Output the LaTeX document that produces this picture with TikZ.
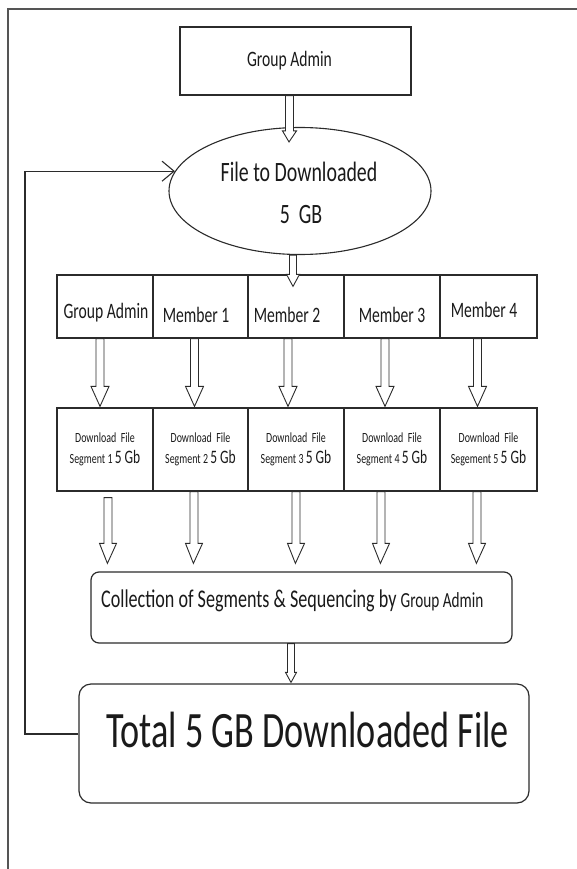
\documentclass[tikz,border=0pt]{standalone}
\usepackage{fontspec}
\setmainfont{Carlito}[FakeStretch=0.71]
\usetikzlibrary{calc,arrows.meta,shapes.geometric}
\definecolor{lc}{HTML}{2B2B2B}
\definecolor{tc}{HTML}{1A1A1A}
\begin{document}
\begin{tikzpicture}[x=1pt,y=-1pt,
  box/.style={draw=lc, line width=1.2pt, inner sep=0pt},
  rbox/.style={box, rounded corners=#1},
  txt/.style={inner sep=0pt, text=tc, anchor=base},
  cell/.style={box, minimum height=#1},
  hollow/.style n args={3}{draw=lc, line width=0.9pt, fill=white,
    to path={let \p1=(\tikztostart), \p2=(\tikztotarget) in
      (\x1-#1,\y1) -- (\x1-#1,\y2+#3) -- (\x1-#2,\y2+#3) -- (\x2,\y2)
      -- (\x1+#2,\y2+#3) -- (\x1+#1,\y2+#3) -- (\x1+#1,\y1) -- cycle}},
  fbline/.style={draw=lc, line width=1.2pt, -{Straight Barb[length=12pt,width=20pt,line width=1.1pt]}},
  fs22/.style={font=\fontsize{22}{26}\selectfont},
]
\useasboundingbox (0,0) rectangle (577,869);

% frame (top and left edges)
\coordinate (frameTL) at (8,9);
\draw[draw=lc!80, line width=1.4pt] (8,869) -- (frameTL) -- (577,9);

% top box
\node[box, minimum width=231, minimum height=68] (ga) at (295.5,61) {};
\node[txt, fs22] (gat) at (289.5,67) {Group Admin};

% ellipse
\node[draw=lc, line width=1.1pt, ellipse, inner sep=0pt, minimum width=262, minimum height=127] (ell) at (300,191) {};
\node[txt, font=\fontsize{28}{32}\selectfont] (ellt1) at (299,182) {File to Downloaded};
\node[txt, font=\fontsize{28}{32}\selectfont] (ellt2) at (301,223) {5\ \ GB};

% row 1
\node[cell=63, minimum width=96] (c1) at (105,306.5) {};
\node[cell=63, minimum width=95] (c2) at (200.5,306.5) {};
\node[cell=63, minimum width=96] (c3) at (296,306.5) {};
\node[cell=63, minimum width=96] (c4) at (392,306.5) {};
\node[cell=63, minimum width=97] (c5) at (488.5,306.5) {};
\node[txt, fs22] (t1) at (106,318) {Group Admin};
\node[txt, fs22] (t2) at (196,322) {Member 1};
\node[txt, fs22] (t3) at (287,322) {Member 2};
\node[txt, fs22] (t4) at (392,322) {Member 3};
\node[txt, fs22] (t5) at (484,317) {Member 4};

% row 2
\tikzset{segtxt/.style={align=center, text=tc, font=\fontsize{14}{21}\selectfont}}
\node[cell=83, minimum width=96, segtxt] (s1) at (105,449.5) {Download~ File\\Segment 1 {\fontsize{19}{21}\selectfont 5 Gb}};
\node[cell=83, minimum width=95, segtxt] (s2) at (200.5,449.5) {Download~ File\\Segment 2 {\fontsize{19}{21}\selectfont 5 Gb}};
\node[cell=83, minimum width=96, segtxt] (s3) at (296,449.5) {Download~ File\\Segment 3 {\fontsize{19}{21}\selectfont 5 Gb}};
\node[cell=83, minimum width=96, segtxt] (s4) at (392,449.5) {Download~ File\\Segment 4 {\fontsize{19}{21}\selectfont 5 Gb}};
\node[cell=83, minimum width=97, segtxt] (s5) at (488.5,449.5) {Download~ File\\Segement 5 {\fontsize{19}{21}\selectfont 5 Gb}};

% collection box
\node[rbox=8pt, minimum width=421, minimum height=71] (coll) at (301.5,607.5) {};
\node[txt, anchor=base west, font=\fontsize{25.5}{30}\selectfont] (collt) at (101,607) {Collection of Segments \& Sequencing by {\fontsize{21.5}{26}\selectfont Group Admin}};

% total box
\node[rbox=12pt, minimum width=450, minimum height=119] (total) at (304,743.5) {};
\node[txt, anchor=base west, font=\fontsize{51}{56}\selectfont] (totalt) at (106,747) {Total 5 GB Downloaded File};

% hollow arrows
\draw[hollow={4pt}{7pt}{11pt}] ($(ga.south)+(-6,0)$) to ($(ell.north)+(-11,15)$);
\draw[hollow={3.5pt}{6.5pt}{12pt}] ($(ell.south)+(-7,0)$) to ($(c3.north)+(-3,12)$);

\draw[hollow={4pt}{9pt}{20pt}] ($(c1.south)+(-5,0)$) to ($(s1.north)+(-5,-1)$);
\draw[hollow={4pt}{9pt}{20pt}] ($(c2.south)+(-6,0)$) to ($(s2.north)+(-6,-1)$);
\draw[hollow={4pt}{9pt}{20pt}] ($(c3.south)+(-8,0)$) to ($(s3.north)+(-8,-1)$);
\draw[hollow={4pt}{9pt}{20pt}] ($(c4.south)+(-7,0)$) to ($(s4.north)+(-7,-1)$);
\draw[hollow={4pt}{9pt}{20pt}] ($(c5.south)+(-11,0)$) to ($(s5.north)+(-11,-1)$);

\draw[hollow={4pt}{8.5pt}{20pt}] ($(s1.south)+(3,6)$) to ($(coll.north west)+(17,-8)$);
\draw[hollow={4pt}{8.5pt}{20pt}] ($(s2.south)+(-6.5,0)$) to ($(coll.north west)+(103,-8)$);
\draw[hollow={4pt}{8.5pt}{20pt}] ($(s3.south)+(0,0)$) to ($(coll.north west)+(205,-8)$);
\draw[hollow={4pt}{8.5pt}{20pt}] ($(s4.south)+(-11,0)$) to ($(coll.north west)+(290,-8)$);
\draw[hollow={4pt}{8.5pt}{20pt}] ($(s5.south)+(-11.5,0)$) to ($(coll.north west)+(386,-8)$);

\draw[hollow={3.5pt}{5.5pt}{10pt}] ($(coll.south)+(-10.5,0)$) to ($(total.north)+(-13,-1)$);

% feedback loop
\coordinate (fbc) at (25,734);
\draw[fbline] ($(total.west)+(0,-9.5)$) -- (fbc) |- (ell.171);
\end{tikzpicture}
\end{document}
